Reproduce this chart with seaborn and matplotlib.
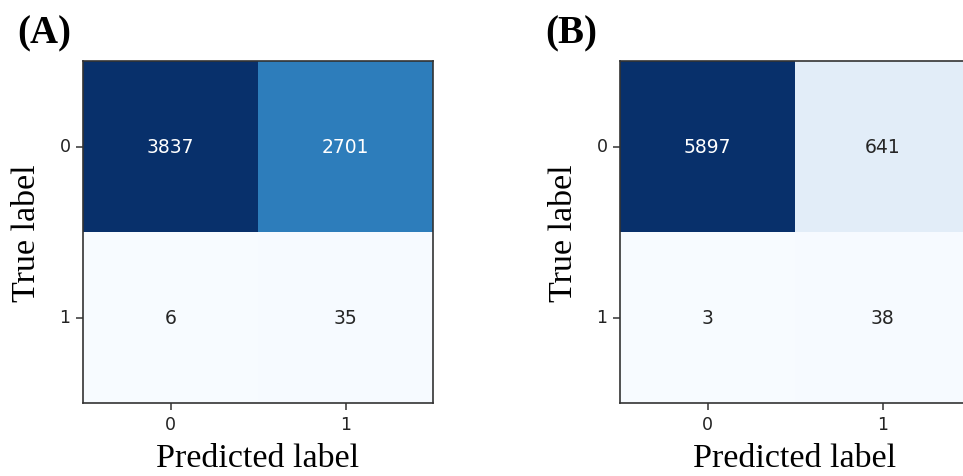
import numpy as np
import matplotlib
matplotlib.use("Agg")
import matplotlib.pyplot as plt
import seaborn as sns

# Confusion-matrix counts for the two classifiers
class_labels = ["0", "1"]
cm_a = [[3837, 2701],
        [6, 35]]
cm_b = [[5897, 641],
        [3, 38]]
panel_tags = ["(A)", "(B)"]

sns.set_theme(style="white")
plt.rcParams["font.family"] = ["DejaVu Sans"]

fig = plt.figure(figsize=(9.63, 4.77), dpi=100)
serif = "Liberation Serif"

axes_rects = [[83 / 963, 1 - 404 / 477, 350 / 963, 342 / 477],
              [620 / 963, 1 - 404 / 477, 350 / 963, 342 / 477]]
tag_x = [17 / 963, 545 / 963]

for rect, cm, tag, tx in zip(axes_rects, [cm_a, cm_b], panel_tags, tag_x):
    ax = fig.add_axes(rect)
    sns.heatmap(np.array(cm), annot=True, fmt="d", cmap="Blues", cbar=False,
                xticklabels=class_labels, yticklabels=class_labels,
                annot_kws={"size": 13.5}, ax=ax)
    for s in ax.spines.values():
        s.set_visible(True)
        s.set_color("#333333")
        s.set_linewidth(1.2)
    ax.tick_params(axis="both", which="both", length=5, width=1.1,
                   color="#333333", labelsize=12.5, labelcolor="#222222",
                   bottom=True, left=True, pad=4)
    ax.set_yticklabels(class_labels, rotation=0)
    ax.set_xticklabels(class_labels, rotation=0)
    ax.set_xlabel("Predicted label", family=serif, fontsize=24.5, color="black")
    ax.set_ylabel("True label", family=serif, fontsize=24.5, color="black")
    ax.xaxis.set_label_coords(0.5, -0.115)
    ax.yaxis.set_label_coords(-0.118, 0.5)
    fig.text(tx, 1 - 43 / 477, tag, family=serif, fontweight="bold",
             fontsize=28, va="baseline", ha="left", color="black")

fig.savefig("out.png", dpi=100)
